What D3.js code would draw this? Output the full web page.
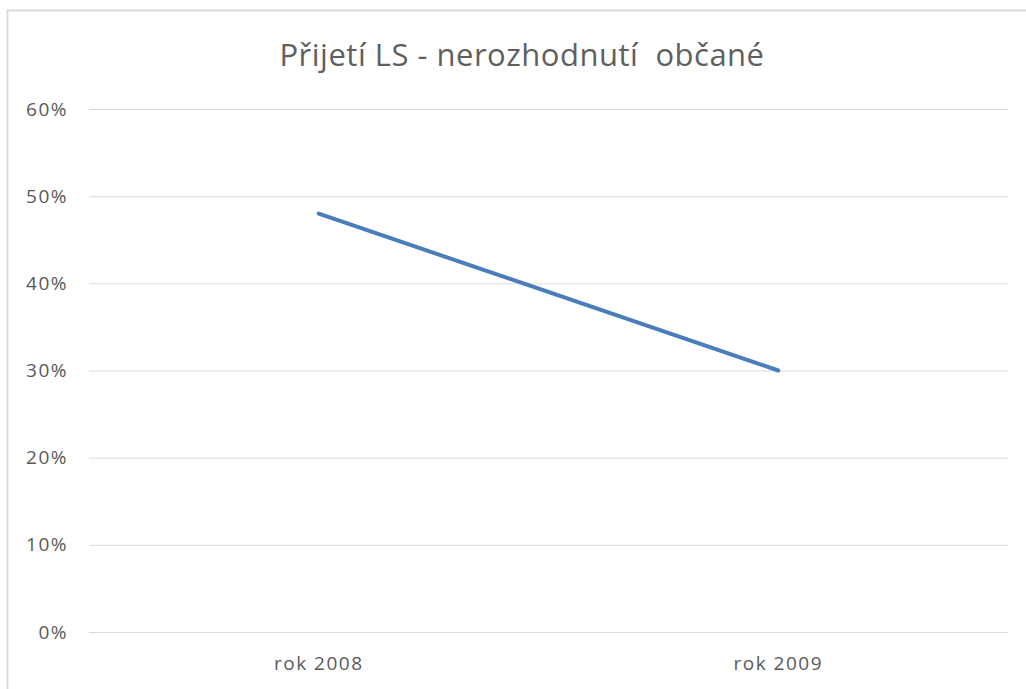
<!DOCTYPE html>
<html>
<head>
<meta charset="utf-8">
<script src="https://cdn.jsdelivr.net/npm/d3@7"></script>
<style>
  body { margin: 0; background: #fff; }
  svg { display: block; font-family: "Open Sans", sans-serif; }
</style>
</head>
<body>
<div id="chart"></div>
<script>
const title = "Přijetí LS - nerozhodnutí\u00a0\u00a0občané";
const categories = ["rok 2008", "rok 2009"];
const values = [0.48, 0.30];
const yTicks = [0, 0.1, 0.2, 0.3, 0.4, 0.5, 0.6];

function init() {
    const w = 1026;
    const h = 689;
    const margin = { top: 109, right: 18, bottom: 57, left: 89 };

    const svg = d3.select("#chart")
        .append("svg")
        .attr("width", w)
        .attr("height", h);

    // chart frame (cropped on the right and bottom)
    svg.append("rect")
        .attr("x", 7.5)
        .attr("y", 10.5)
        .attr("width", w + 20)
        .attr("height", h + 20)
        .attr("fill", "none")
        .attr("stroke", "#d9d9d9")
        .attr("stroke-width", 2);

    const xScale = d3.scaleBand()
        .domain(categories)
        .range([margin.left, w - margin.right]);

    const yScale = d3.scaleLinear()
        .domain([0, 0.6])
        .range([h - margin.bottom, margin.top]);

    // gridlines + y labels
    svg.append("g")
        .attr("transform", `translate(${margin.left},0)`)
        .call(d3.axisLeft(yScale)
            .tickValues(yTicks)
            .tickSize(-(w - margin.left - margin.right))
            .tickFormat(d3.format(".0%"))
            .tickPadding(21))
        .call(g => g.select(".domain").remove())
        .call(g => g.selectAll(".tick line")
            .attr("stroke", "#d9d9d9")
            .attr("stroke-width", 1))
        .call(g => g.selectAll(".tick text")
            .attr("fill", "#595959")
            .attr("font-size", "19px")
            .attr("letter-spacing", "1.5px")
            .attr("font-family", "'Open Sans', sans-serif"));

    // category labels
    svg.append("g")
        .attr("transform", `translate(0,${h - margin.bottom})`)
        .call(d3.axisBottom(xScale).tickSize(0).tickPadding(25))
        .call(g => g.select(".domain").remove())
        .call(g => g.selectAll(".tick text")
            .attr("fill", "#595959")
            .attr("font-size", "19px")
            .attr("letter-spacing", "1.5px")
            .attr("font-family", "'Open Sans', sans-serif"));

    // the line
    const line = d3.line()
        .x((d, i) => xScale(categories[i]) + xScale.bandwidth() / 2)
        .y(d => yScale(d));

    svg.append("path")
        .datum(values)
        .attr("d", line)
        .attr("fill", "none")
        .attr("stroke", "#4a7ebb")
        .attr("stroke-width", 4)
        .attr("stroke-linecap", "round");

    // title
    svg.append("text")
        .attr("x", 522)
        .attr("y", 66)
        .attr("text-anchor", "middle")
        .attr("font-size", "31px")
        .attr("letter-spacing", "0.5px")
        .attr("fill", "#5f5f5f")
        .text(title);
}

window.onload = init;
</script>
</body>
</html>
